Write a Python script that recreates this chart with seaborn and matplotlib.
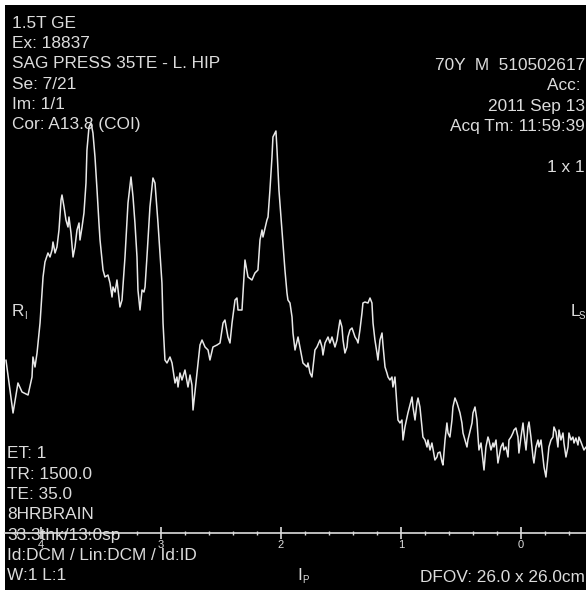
import matplotlib
matplotlib.use("Agg")
import matplotlib.pyplot as plt
import seaborn as sns
import pandas as pd

# chemical shift (ppm) and signal height (arbitrary units)
ppm = [4.292, 4.233, 4.192, 4.158, 4.108, 4.075, 4.067, 4.050, 4.033, 4.008,
       3.983, 3.967, 3.942, 3.925, 3.908, 3.900, 3.883, 3.867, 3.850, 3.833,
       3.825, 3.808, 3.792, 3.775, 3.767, 3.750, 3.733, 3.717, 3.700, 3.683,
       3.675, 3.658, 3.642, 3.625, 3.617, 3.600, 3.583, 3.567, 3.550, 3.533,
       3.517, 3.508, 3.483, 3.467, 3.442, 3.425, 3.408, 3.400, 3.383, 3.367,
       3.358, 3.342, 3.325, 3.300, 3.275, 3.250, 3.233, 3.217, 3.200, 3.192,
       3.175, 3.158, 3.142, 3.133, 3.117, 3.092, 3.067, 3.050, 3.025, 2.992,
       2.983, 2.967, 2.950, 2.925, 2.908, 2.883, 2.867, 2.858, 2.842, 2.825,
       2.800, 2.775, 2.758, 2.742, 2.733, 2.700, 2.675, 2.658, 2.633, 2.608,
       2.592, 2.567, 2.533, 2.508, 2.483, 2.467, 2.442, 2.425, 2.408, 2.383,
       2.367, 2.358, 2.325, 2.300, 2.275, 2.242, 2.217, 2.192, 2.175, 2.158,
       2.150, 2.117, 2.108, 2.092, 2.075, 2.067, 2.042, 2.033, 2.017, 1.992,
       1.967, 1.950, 1.942, 1.925, 1.908, 1.900, 1.883, 1.858, 1.842, 1.817,
       1.800, 1.783, 1.775, 1.758, 1.742, 1.733, 1.717, 1.700, 1.675, 1.658,
       1.650, 1.633, 1.608, 1.592, 1.575, 1.550, 1.533, 1.525, 1.508, 1.492,
       1.483, 1.467, 1.450, 1.442, 1.425, 1.408, 1.383, 1.367, 1.358, 1.342,
       1.325, 1.317, 1.300, 1.275, 1.258, 1.242, 1.233, 1.217, 1.200, 1.192,
       1.175, 1.158, 1.150, 1.133, 1.117, 1.108, 1.092, 1.075, 1.067, 1.050,
       1.033, 1.025, 1.008, 0.992, 0.983, 0.967, 0.942, 0.908, 0.900, 0.883,
       0.867, 0.858, 0.842, 0.825, 0.817, 0.800, 0.783, 0.775, 0.758, 0.742,
       0.717, 0.700, 0.692, 0.675, 0.658, 0.650, 0.633, 0.617, 0.608, 0.592,
       0.575, 0.567, 0.550, 0.533, 0.508, 0.492, 0.483, 0.450, 0.442, 0.408,
       0.400, 0.383, 0.367, 0.358, 0.350, 0.333, 0.317, 0.308, 0.292, 0.275,
       0.267, 0.250, 0.233, 0.225, 0.208, 0.192, 0.183, 0.167, 0.150, 0.142,
       0.125, 0.108, 0.100, 0.083, 0.067, 0.058, 0.042, 0.025, 0.017, 0.000,
       -0.017, -0.025, -0.042, -0.058, -0.067, -0.083, -0.100, -0.108, -0.125, -0.142,
       -0.150, -0.167, -0.183, -0.192, -0.208, -0.225, -0.233, -0.250, -0.267, -0.275,
       -0.292, -0.308, -0.317, -0.333, -0.350, -0.358, -0.375, -0.392, -0.400, -0.417,
       -0.433, -0.442, -0.458, -0.475, -0.483, -0.500, -0.525, -0.542]
signal = [173, 120, 150, 141, 138, 156, 176, 166, 180, 210,
          256, 271, 280, 276, 283, 291, 280, 286, 303, 333,
          338, 326, 313, 306, 316, 300, 276, 286, 303, 310,
          293, 306, 320, 350, 383, 406, 410, 400, 376, 343,
          310, 293, 263, 256, 258, 250, 236, 246, 241, 253,
          243, 226, 233, 276, 330, 356, 336, 310, 276, 243,
          223, 243, 241, 246, 276, 326, 355, 350, 310, 250,
          210, 173, 170, 176, 170, 150, 156, 146, 160, 153,
          163, 146, 158, 148, 123, 160, 188, 193, 186, 183,
          173, 186, 188, 190, 210, 213, 196, 190, 210, 233,
          235, 223, 223, 273, 256, 253, 260, 263, 293, 303,
          296, 313, 316, 343, 376, 396, 402, 383, 343, 303,
          263, 240, 233, 230, 216, 200, 183, 196, 186, 170,
          168, 166, 170, 160, 156, 166, 183, 186, 193, 186,
          178, 190, 196, 190, 196, 186, 193, 200, 213, 206,
          193, 180, 186, 196, 203, 205, 196, 193, 190, 203,
          220, 230, 231, 230, 235, 230, 210, 193, 180, 173,
          193, 200, 188, 166, 160, 156, 153, 156, 146, 156,
          126, 113, 110, 113, 93, 106, 120, 136, 126, 113,
          130, 135, 126, 106, 96, 93, 86, 93, 83, 90,
          73, 76, 80, 81, 71, 68, 93, 110, 100, 96,
          113, 126, 135, 130, 120, 110, 100, 86, 93, 110,
          120, 126, 113, 96, 83, 90, 73, 63, 86, 96,
          93, 83, 90, 86, 93, 70, 76, 86, 90, 83,
          86, 76, 93, 96, 100, 103, 105, 96, 80, 96,
          110, 100, 83, 106, 111, 96, 76, 70, 86, 93,
          86, 93, 76, 66, 56, 76, 86, 93, 96, 106,
          101, 86, 103, 93, 100, 90, 76, 86, 100, 93,
          96, 90, 95, 88, 96, 91, 83, 86]

major_ticks = [4, 3, 2, 1, 0]
minor_ticks = [4.2, 3.8, 3.6, 3.4, 3.2, 2.8, 2.6, 2.4, 2.2, 1.8, 1.6, 1.4, 1.2,
               0.8, 0.6, 0.4, 0.2, -0.2, -0.4]

header_left = ["1.5T GE", "Ex: 18837", "SAG PRESS 35TE - L. HIP", "Se: 7/21",
               "Im: 1/1", "Cor: A13.8 (COI)"]
header_right = ["70Y  M  510502617", "Acc: ", "2011 Sep 13", "Acq Tm: 11:59:39"]
footer_left = ["ET: 1", "TR: 1500.0", "TE: 35.0", "8HRBRAIN", "33.3thk/13.0sp",
               "Id:DCM / Lin:DCM / Id:ID", "W:1 L:1"]

W, H = 586, 590
FG = "#dcdcdc"

sns.set_theme(style="dark")
plt.rcParams["font.family"] = ["Liberation Sans", "DejaVu Sans"]

fig = plt.figure(figsize=(W / 100, H / 100), dpi=100, facecolor="white")
ax = fig.add_axes([5 / W, 0, (W - 5) / W, (H - 5) / H])
ax.set_facecolor("black")

df = pd.DataFrame({"ppm": ppm, "signal": signal})
sns.lineplot(data=df, x="ppm", y="signal", estimator=None, color="#e8e8e8",
             linewidth=1.1, ax=ax)

ax.set_xlim(4.3, -0.542)
ax.set_ylim(-57, 528)
ax.grid(False)
for side in ["top", "left", "right"]:
    ax.spines[side].set_visible(False)
ax.spines["bottom"].set_position(("data", 0))
ax.spines["bottom"].set_color(FG)
ax.spines["bottom"].set_linewidth(1.2)
ax.set_xticks(major_ticks)
ax.set_xticklabels([str(t) for t in major_ticks])
ax.set_xticks(minor_ticks, minor=True)
ax.set_yticks([])
ax.tick_params(axis="x", which="major", direction="inout", length=8, width=1.2,
               color=FG, labelcolor=FG, labelsize=8, pad=1, bottom=True)
ax.tick_params(axis="x", which="minor", direction="inout", length=3, width=1.0,
               color=FG, bottom=True)
ax.set_xlabel("")
ax.set_ylabel("")


def put(x, y, s, ha="left", size=12.4):
    fig.text(x / W, 1 - y / H, s, ha=ha, va="center", color=FG, fontsize=size)


for i, s in enumerate(header_left):
    put(12, 23 + i * 20.4, s)
for i, s in enumerate(header_right):
    put(585, 65 + i * 20.6, s, ha="right")
put(585, 167, "1 x 1", ha="right")
for i, s in enumerate(footer_left):
    put(7, 454 + i * 20.3, s)
put(585, 577, "DFOV: 26.0 x 26.0cm", ha="right")

# orientation markers
put(12, 312, "R")
put(24, 316, "I", size=7)
put(571, 312, "L")
put(579, 316, "S", size=7)
put(297, 576, "I")
put(302, 580, "P", size=7)

fig.savefig("out.png", dpi=100, facecolor="white")
